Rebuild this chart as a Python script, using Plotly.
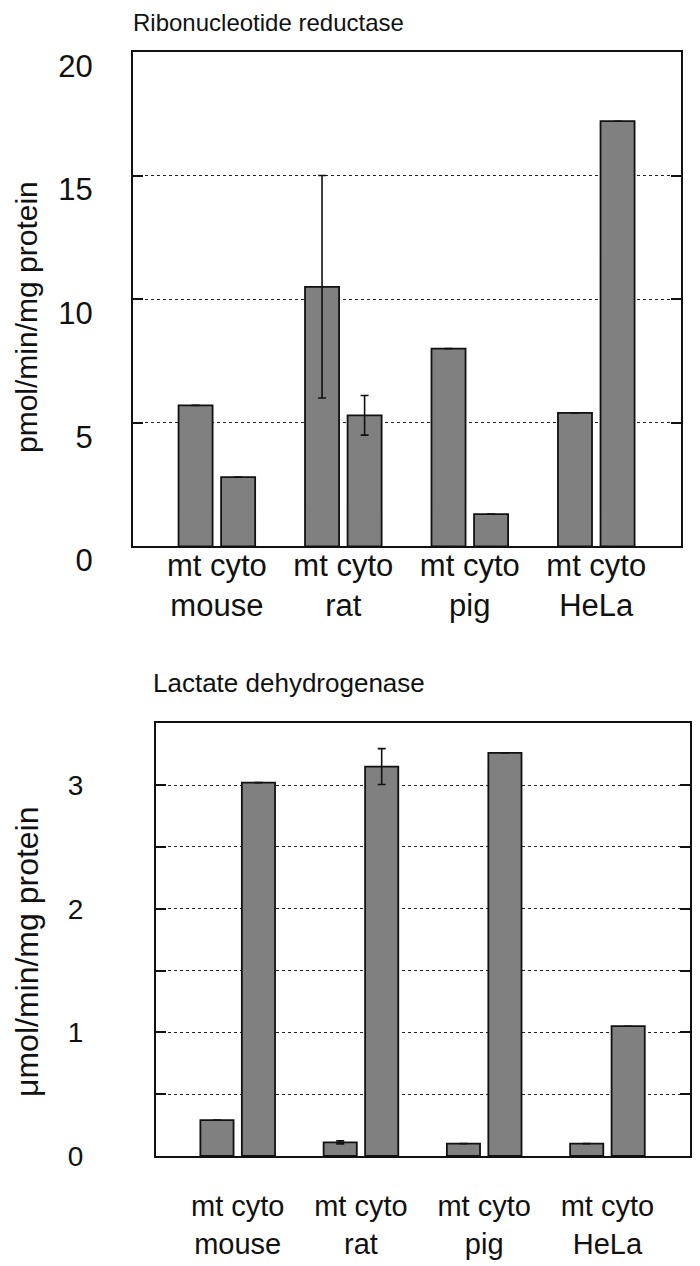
import plotly.graph_objects as go

# ---- data ----
species = ["mouse", "rat", "pig", "HeLa"]
tick_labels_x = ["mt cyto<br>mouse", "mt cyto<br>rat", "mt cyto<br>pig", "mt cyto<br>HeLa"]

rnr_mt = [5.7, 10.5, 8.0, 5.4]
rnr_cyto = [2.8, 5.3, 1.3, 17.2]
rnr_mt_err = [None, 4.5, None, None]
rnr_cyto_err = [None, 0.8, None, None]

ldh_mt = [0.29, 0.11, 0.10, 0.10]
ldh_cyto = [3.02, 3.15, 3.26, 1.05]
ldh_mt_err = [None, 0.012, None, None]
ldh_cyto_err = [None, 0.145, None, None]

title_top = "Ribonucleotide reductase"
title_bottom = "Lactate dehydrogenase"
ytitle_top = "pmol/min/mg protein"
ytitle_bottom = "μmol/min/mg protein"

FONT = "Liberation Sans, Arial, sans-serif"
BAR = "#808080"
TXT = "#111111"
W, H = 692, 1258   # page body has an 8px margin

def px(x):
    return x / W

def py(y):
    return 1 - y / H

fig = go.Figure()

def add_bars(vals_mt, vals_cyto, err_mt, err_cyto, xa, ya):
    for vals, err in ((vals_mt, err_mt), (vals_cyto, err_cyto)):
        fig.add_trace(go.Bar(
            x=species, y=vals, xaxis=xa, yaxis=ya,
            marker=dict(color=BAR, line=dict(color="#111", width=1.8)),
            error_y=dict(type="data", array=err, visible=True,
                         color="#111", thickness=1.6, width=4),
            showlegend=False,
        ))

add_bars(rnr_mt, rnr_cyto, rnr_mt_err, rnr_cyto_err, "x", "y")
add_bars(ldh_mt, ldh_cyto, ldh_mt_err, ldh_cyto_err, "x2", "y2")

common_x = dict(
    type="category", tickmode="array", tickvals=species, ticktext=tick_labels_x,
    range=[-0.663, 3.67], showline=True, linecolor="#111", linewidth=2,
    mirror=True, ticks="", showgrid=False, zeroline=False, automargin=False,
)
common_y = dict(
    showline=True, linecolor="#111", linewidth=2, mirror="ticks",
    ticks="inside", ticklen=10, tickwidth=2, tickcolor="#111",
    showgrid=True, gridcolor="#222", gridwidth=1, griddash="dot",
    zeroline=False, automargin=False,
)

fig.update_layout(
    width=W, height=H,
    margin=dict(l=0, r=0, t=0, b=0),
    paper_bgcolor="white", plot_bgcolor="white",
    barmode="group", bargap=0.327, bargroupgap=0.2,
    font=dict(family=FONT, color=TXT),
    xaxis=dict(common_x, domain=[px(125), px(673)], anchor="y",
               tickfont=dict(size=31, family=FONT, color=TXT), ticklabelstandoff=-10),
    yaxis=dict(common_y, domain=[py(538.3), py(44)], anchor="x",
               range=[0, 20], tickvals=[0, 5, 10, 15, 20],
               tickfont=dict(size=31, family=FONT, color=TXT),
               ticklabelstandoff=32, ticklabelshift=14),
    xaxis2=dict(common_x, domain=[px(148), px(682)], anchor="y2",
                tickfont=dict(size=29, family=FONT, color=TXT), ticklabelstandoff=23),
    yaxis2=dict(common_y, domain=[py(1148), py(715.3)], anchor="x2",
                range=[0, 3.5], tickvals=[0, 1, 2, 3],
                minor=dict(tickvals=[0.5, 1.5, 2.5], ticks="inside", ticklen=10,
                           tickwidth=2, tickcolor="#111", showgrid=True,
                           gridcolor="#222", gridwidth=1, griddash="dot"),
                tickfont=dict(size=28, family=FONT, color=TXT),
                ticklabelstandoff=65),
)

fig.add_annotation(text=title_top, xref="paper", yref="paper",
                   x=px(123), y=py(15), xanchor="left", yanchor="middle",
                   showarrow=False, font=dict(size=24, family=FONT, color=TXT))
fig.add_annotation(text=title_bottom, xref="paper", yref="paper",
                   x=px(143), y=py(674.5), xanchor="left", yanchor="middle",
                   showarrow=False, font=dict(size=26, family=FONT, color=TXT))
fig.add_annotation(text=ytitle_top, xref="paper", yref="paper",
                   x=px(18), y=py(309), xanchor="center", yanchor="middle",
                   textangle=-90, showarrow=False,
                   font=dict(size=30, family=FONT, color=TXT))
fig.add_annotation(text=ytitle_bottom, xref="paper", yref="paper",
                   x=px(19), y=py(944), xanchor="center", yanchor="middle",
                   textangle=-90, showarrow=False,
                   font=dict(size=32, family=FONT, color=TXT))

fig.write_html("out.html")
